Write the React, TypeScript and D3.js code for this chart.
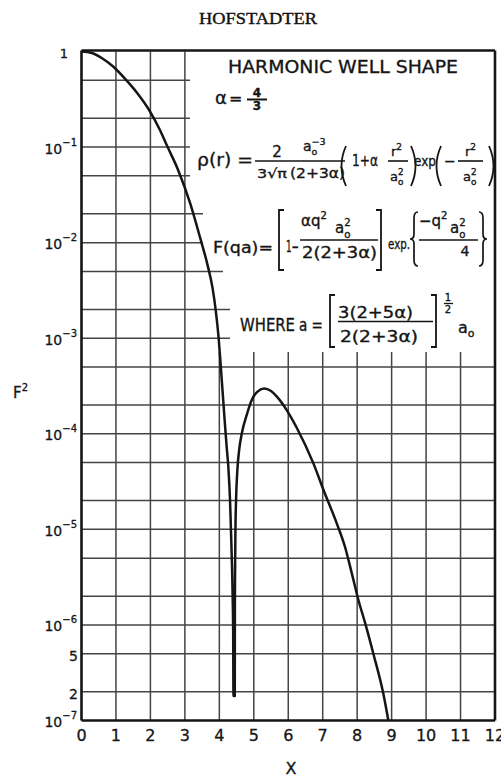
import React from 'react';
import * as d3 from 'd3';

// F^2 versus X = qa for the harmonic-well charge distribution (alpha = 4/3)
const curveX = [
  0, 0.3, 0.62, 0.91, 1.26, 1.61, 1.99, 2.28, 2.5, 2.8, 3.15, 3.45, 3.65, 3.8, 3.9, 3.98,
  4.04, 4.1, 4.16, 4.21, 4.261, 4.311, 4.34, 4.369, 4.389, 4.402, 4.41, 4.448, 4.452,
  4.458, 4.466, 4.485, 4.52, 4.58, 4.65, 4.8, 4.95, 5.1, 5.3, 5.5, 5.67, 5.96, 6.25, 6.73,
  7.02, 7.41, 7.65, 7.85, 8.04, 8.23, 8.47, 8.76, 8.905,
];
const curveF2 = [
  1, 0.965, 0.84, 0.7, 0.52, 0.37, 0.235, 0.15, 0.1, 0.058, 0.026, 0.011, 0.006, 0.0034,
  0.0019, 0.001, 5.2e-4, 2.6e-4, 1.3e-4, 7.5e-5, 4.5e-5, 2.0e-5, 9.1e-6, 4.0e-6, 1.8e-6,
  8e-7, 1.8e-7, 1.8e-7, 1.8e-6, 4.0e-6, 9.0e-6, 2.0e-5, 4.0e-5, 7.0e-5, 1.0e-4, 1.6e-4,
  2.3e-4, 2.75e-4, 2.97e-4, 2.8e-4, 2.45e-4, 1.76e-4, 1.15e-4, 4.9e-5, 2.6e-5, 1.15e-5,
  6.5e-6, 3.4e-6, 1.8e-6, 1.05e-6, 5.0e-7, 1.9e-7, 1.0e-7,
];

const xTicks = [0, 1, 2, 3, 4, 5, 6, 7, 8, 9, 10, 11, 12];
const xTickLabels = ['0', '1', '2', '3', '4', '5', '6', '7', '8', '9', '10', '11', '12'];
const yDecadeExponents = [-1, -2, -3, -4, -5, -6, -7];
const yMinorValues = [5e-7, 2e-7];
const yMinorLabels = ['5', '2'];
const gridMantissas = [1, 2, 5];

const W = 501;
const H = 777;
const FONT = 'DejaVu Sans, Verdana, sans-serif';
const INK = '#151515';
const GRID = '#444';

const x = d3.scaleLinear().domain([0, 12]).range([81.5, 495]);
const y = d3.scaleLog().domain([1e-7, 1]).range([720.5, 51.5]);

// horizontal grid lines stop short of the formula panel in the upper part
function gridEnd(v: number): number {
  if (v >= 0.05) return 190;
  if (v >= 0.01) return 203;
  if (v >= 0.005) return 223;
  if (v >= 0.001) return 230;
  return x(12);
}
const panelBottom = 352;

function paren(xc: number, y0: number, y1: number, dir: number, key: string) {
  const d = `M${xc},${y0} Q${xc - dir * 9},${(y0 + y1) / 2} ${xc},${y1}`;
  return <path key={key} d={d} fill="none" stroke={INK} strokeWidth={1.8} />;
}
function bracket(xb: number, y0: number, y1: number, dir: number, key: string) {
  const d = `M${xb + dir * 5},${y0} H${xb} V${y1} H${xb + dir * 5}`;
  return <path key={key} d={d} fill="none" stroke={INK} strokeWidth={1.8} />;
}
function bar(x0: number, x1: number, yy: number, key: string, w = 1.6) {
  return <line key={key} x1={x0} x2={x1} y1={yy} y2={yy} stroke={INK} strokeWidth={w} />;
}
// curly brace; dir = 1 opens to the right, -1 to the left
function brace(xb: number, y0: number, y1: number, dir: number, key: string) {
  const ym = (y0 + y1) / 2;
  const a = dir * 4;
  const d =
    `M${xb + a},${y0} Q${xb},${y0} ${xb},${y0 + 6} L${xb},${ym - 5} Q${xb},${ym} ${xb - a},${ym}` +
    ` Q${xb},${ym} ${xb},${ym + 5} L${xb},${y1 - 6} Q${xb},${y1} ${xb + a},${y1}`;
  return <path key={key} d={d} fill="none" stroke={INK} strokeWidth={1.7} />;
}
// a-sub-zero with an optional superscript
function aSub(xa: number, base: number, size: number, sup: string | null, key: string) {
  return (
    <text key={key} x={xa} y={base} fontSize={size}>
      a
      <tspan fontSize={size * 0.68} dy={size * 0.3}>o</tspan>
      {sup ? (
        <tspan fontSize={size * 0.68} dx={-size * 0.42} dy={-size * 0.75}>{sup}</tspan>
      ) : null}
    </text>
  );
}

export default function App() {
  const pts = curveX.map((v, i) => [v, curveF2[i]] as [number, number]);
  const line = d3
    .line<[number, number]>()
    .x((d) => x(d[0]))
    .y((d) => y(d[1]))
    .curve(d3.curveMonotoneX);

  const hLines: number[] = [];
  for (let e = -7; e <= -1; e++) {
    gridMantissas.forEach((m) => {
      const v = m * Math.pow(10, e);
      if (v > 1e-7 * 1.0001 && v < 0.9999) hLines.push(v);
    });
  }

  return (
    <svg width={W} height={H} style={{ position: 'absolute', left: 0, top: 0, background: '#fff' }}>
      <rect x={0} y={0} width={W} height={H} fill="#fff" />

      <text x={258} y={24} textAnchor="middle" fontFamily="Liberation Serif, Times New Roman, serif" fontSize={17} fill="#111" stroke="#111" strokeWidth={0.4} textLength={118} lengthAdjust="spacingAndGlyphs">
        HOFSTADTER
      </text>

      {/* grid */}
      <g stroke={GRID} strokeWidth={1.5}>
        {hLines.map((v, i) => (
          <line key={'h' + i} x1={x(0)} x2={gridEnd(v)} y1={y(v)} y2={y(v)} />
        ))}
        {xTicks.slice(1, 12).map((t) => (
          <line key={'v' + t} x1={x(t)} x2={x(t)} y1={t <= 3 ? y(1) : panelBottom} y2={y(1e-7)} />
        ))}
      </g>

      {/* frame */}
      <g stroke={INK} strokeWidth={2.6} fill="none">
        <line x1={x(0)} x2={x(12)} y1={y(1) - 1} y2={y(1) - 1} />
        <line x1={x(0)} x2={x(12)} y1={y(1e-7)} y2={y(1e-7)} />
        <line x1={x(0)} x2={x(0)} y1={y(1) - 1} y2={y(1e-7)} />
        <line x1={x(12)} x2={x(12)} y1={y(1) - 1} y2={y(1e-7)} />
      </g>

      {/* curve */}
      <path d={line(pts) || ''} fill="none" stroke={INK} strokeWidth={2.5} strokeLinejoin="round" />

      {/* y axis labels */}
      <g fontFamily={FONT} fill={INK} stroke={INK} strokeWidth={0.3}>
        <text x={68} y={58} fontSize={13} textAnchor="end">1</text>
        {yDecadeExponents.map((e) => (
          <text key={'yl' + e} x={77} y={y(Math.pow(10, e)) + 6.5} fontSize={14} textAnchor="end">
            10<tspan fontSize={10} dy={-8}>{'\u2212' + Math.abs(e)}</tspan>
          </text>
        ))}
        {yMinorValues.map((v, i) => (
          <text key={'ym' + i} x={78} y={y(v) + 7} fontSize={14} textAnchor="end">
            {yMinorLabels[i]}
          </text>
        ))}
        <text x={13} y={398} fontSize={15}>
          F<tspan fontSize={10} dy={-7}>2</tspan>
        </text>
      </g>

      {/* x axis labels */}
      <g fontFamily={FONT} fill={INK} stroke={INK} strokeWidth={0.3} fontSize={16} textAnchor="middle">
        {xTicks.map((t, i) => (
          <text key={'xl' + t} x={x(t)} y={741}>{xTickLabels[i]}</text>
        ))}
        <text x={291} y={774}>X</text>
      </g>

      {/* formula panel */}
      <g fontFamily={FONT} fill={INK} stroke={INK} strokeWidth={0.35}>
        <text x={228} y={73} fontSize={18} textLength={230} lengthAdjust="spacingAndGlyphs">HARMONIC WELL SHAPE</text>

        <text x={215} y={104} fontSize={18}>α</text>
        <text x={229} y={104} fontSize={16}>=</text>
        <text x={257} y={97} fontSize={12} textAnchor="middle" fontWeight="bold">4</text>
        {bar(247, 267, 99.5, 'b43', 2)}
        <text x={257} y={110} fontSize={12} textAnchor="middle" fontWeight="bold">3</text>

        {/* rho(r) */}
        <text x={197} y={166} fontSize={17} textLength={56} lengthAdjust="spacingAndGlyphs">ρ(r) =</text>
        <text x={277} y={157} fontSize={15} textAnchor="middle">2</text>
        {bar(255, 290, 161, 'br1')}
        <text x={272} y={178} fontSize={13} textAnchor="middle" textLength={30} lengthAdjust="spacingAndGlyphs">3√π</text>
        {aSub(303, 151, 14, '−3', 'a03')}
        {bar(290, 345, 161, 'br2')}
        <text x={290} y={178} fontSize={14} textLength={55} lengthAdjust="spacingAndGlyphs">(2+3α)</text>
        {paren(346, 146, 186, 1, 'p1')}
        <text x={352} y={166} fontSize={15} textLength={26} lengthAdjust="spacingAndGlyphs">1+α</text>
        <text x={391} y={156} fontSize={13}>r<tspan fontSize={9} dy={-6}>2</tspan></text>
        {bar(388, 408, 161, 'br3')}
        {aSub(390, 181, 13, '2', 'a2a')}
        {paren(411, 146, 186, -1, 'p2')}
        <text x={414} y={166} fontSize={14} textLength={22} lengthAdjust="spacingAndGlyphs">exp</text>
        {paren(441, 146, 186, 1, 'p3')}
        <text x={444} y={166} fontSize={14}>−</text>
        <text x={465} y={156} fontSize={13}>r<tspan fontSize={9} dy={-6}>2</tspan></text>
        {bar(458, 483, 161, 'br4')}
        {aSub(463, 181, 13, '2', 'a2b')}
        {paren(489, 146, 186, -1, 'p4')}

        {/* F(qa) */}
        <text x={213} y={253} fontSize={16} textLength={60} lengthAdjust="spacingAndGlyphs">F(qa)=</text>
        {bracket(279, 210, 270, 1, 'k1')}
        <text x={286} y={252} fontSize={15} textLength={13} lengthAdjust="spacingAndGlyphs">1−</text>
        <text x={301} y={226} fontSize={15}>αq<tspan fontSize={10} dy={-7}>2</tspan></text>
        {aSub(335, 233, 15, '2', 'a2c')}
        {bar(300, 378, 240, 'br5')}
        <text x={302} y={258} fontSize={15} textLength={75} lengthAdjust="spacingAndGlyphs">2(2+3α)</text>
        {bracket(381, 210, 270, -1, 'k2')}
        <text x={388} y={249} fontSize={14} textLength={22} lengthAdjust="spacingAndGlyphs">exp.</text>
        {brace(414, 212, 266, 1, 'c1')}
        <text x={419} y={226} fontSize={15}>−q<tspan fontSize={10} dy={-7}>2</tspan></text>
        {aSub(450, 233, 15, '2', 'a2d')}
        {bar(419, 478, 240, 'br6')}
        <text x={465} y={256} fontSize={14} textAnchor="middle">4</text>
        {brace(483, 212, 266, -1, 'c2')}

        {/* where a = ... */}
        <text x={240} y={331} fontSize={17} textLength={55} lengthAdjust="spacingAndGlyphs">WHERE</text>
        <text x={299} y={331} fontSize={17} textLength={24} lengthAdjust="spacingAndGlyphs">a =</text>
        {bracket(330, 295, 347, 1, 'k3')}
        <text x={338} y={318} fontSize={15} textLength={75} lengthAdjust="spacingAndGlyphs">3(2+5α)</text>
        {bar(338, 433, 321.5, 'br7')}
        <text x={340} y={342} fontSize={15} textLength={78} lengthAdjust="spacingAndGlyphs">2(2+3α)</text>
        {bracket(436, 295, 347, -1, 'k4')}
        <text x={448} y={301} fontSize={10} textAnchor="middle">1</text>
        {bar(444, 453, 303.5, 'br8', 1.3)}
        <text x={448} y={313} fontSize={10} textAnchor="middle">2</text>
        <text x={458} y={333} fontSize={16}>a<tspan fontSize={11} dy={4}>o</tspan></text>
      </g>
    </svg>
  );
}
